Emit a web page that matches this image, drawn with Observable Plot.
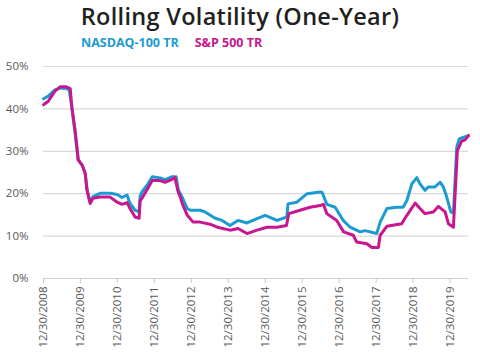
<!DOCTYPE html>
<html><head><meta charset="utf-8">
<script src="https://cdn.jsdelivr.net/npm/d3@7"></script>
<script src="https://cdn.jsdelivr.net/npm/@observablehq/plot@0.6"></script>
<style>
body{margin:0;background:#fff;width:480px;height:354px;overflow:hidden;font-family:"Open Sans",sans-serif}
#title{position:absolute;left:0;top:0px;width:480px;text-align:center;font-size:23.5px;font-weight:600;color:#231f20;letter-spacing:0.3px}
#legend{position:absolute;top:34px;left:81px;font-size:12.5px;font-weight:700}
#legend span{margin-right:16px}
#chart{position:absolute;left:0;top:50px}
</style></head>
<body>
<div id="title">Rolling Volatility (One-Year)</div>
<div id="legend"><span style="color:#1b9bd1">NASDAQ-100 TR</span><span style="color:#c8168e">S&amp;P 500 TR</span></div>
<div id="chart"></div>
<script>
const seriesNames = ["NASDAQ-100 TR", "S&P 500 TR"];
const seriesColors = ["#1b9bd1", "#c8168e"];
const tickDates = ["2008-12-30","2009-12-30","2010-12-30","2011-12-30","2012-12-30","2013-12-30","2014-12-30","2015-12-30","2016-12-30","2017-12-30","2018-12-30","2019-12-30"];
const yTicks = [0, 10, 20, 30, 40, 50];

const nasdaqDates = ["2008-12-30","2009-02-15","2009-04-22","2009-06-12","2009-08-12","2009-09-10","2009-10-08","2009-11-08","2009-12-08","2010-01-17","2010-02-15","2010-03-05","2010-04-05","2010-05-03","2010-07-12","2010-10-20","2010-12-28","2011-02-14","2011-04-05","2011-05-04","2011-06-23","2011-08-02","2011-08-12","2011-08-30","2011-10-20","2011-12-10","2012-02-26","2012-04-15","2012-06-24","2012-08-02","2012-08-22","2012-09-30","2012-11-20","2012-12-20","2013-03-27","2013-05-15","2013-08-22","2013-10-30","2014-01-16","2014-04-05","2014-07-03","2014-10-10","2014-12-30","2015-04-26","2015-08-01","2015-08-12","2015-11-08","2016-02-17","2016-06-25","2016-07-15","2016-08-30","2016-11-20","2017-02-08","2017-04-17","2017-07-25","2017-09-12","2018-01-05","2018-02-08","2018-04-15","2018-07-21","2018-09-23","2018-10-30","2018-12-18","2019-02-05","2019-03-09","2019-04-27","2019-05-30","2019-08-03","2019-09-24","2019-10-25","2019-11-28","2020-01-07","2020-02-02","2020-03-06","2020-03-30","2020-05-09","2020-06-30"];
const nasdaqValues = [42.4,43.0,44.5,44.9,44.8,44.5,40.0,34.0,28.0,26.7,24.8,21.0,18.0,19.3,20.1,20.1,19.8,19.1,19.7,17.7,16.1,15.7,19.5,20.4,22.0,24.0,23.7,23.3,24.0,24.0,21.0,19.2,16.5,16.1,16.1,15.7,14.2,13.7,12.5,13.7,13.1,14.1,14.9,13.7,14.5,17.6,18.0,20.0,20.4,20.3,17.5,16.8,13.7,12.1,11.0,11.3,10.6,13.3,16.5,16.8,16.8,18.4,22.3,23.8,22.3,20.8,21.6,21.6,22.7,21.6,19.2,15.7,15.4,31.0,32.9,33.3,33.7];

const spDates = ["2008-12-30","2009-02-15","2009-04-22","2009-06-12","2009-08-12","2009-09-20","2009-10-08","2009-11-08","2009-12-08","2010-01-17","2010-02-15","2010-03-05","2010-04-05","2010-05-03","2010-07-12","2010-10-20","2010-12-28","2011-02-14","2011-04-05","2011-05-04","2011-06-23","2011-08-02","2011-08-12","2011-08-30","2011-10-20","2011-12-10","2012-02-26","2012-04-15","2012-06-24","2012-07-20","2012-08-22","2012-09-12","2012-09-30","2012-11-20","2013-01-17","2013-03-27","2013-07-03","2013-09-12","2014-01-16","2014-04-05","2014-07-03","2014-10-10","2015-01-18","2015-04-26","2015-07-28","2015-08-20","2015-12-09","2016-03-17","2016-06-25","2016-07-27","2016-08-30","2016-12-06","2017-02-12","2017-05-18","2017-06-21","2017-09-30","2017-11-17","2018-01-21","2018-02-08","2018-04-15","2018-09-08","2018-10-30","2019-01-20","2019-03-09","2019-04-27","2019-07-18","2019-09-06","2019-11-12","2019-12-15","2020-02-02","2020-03-12","2020-04-24","2020-05-27","2020-06-30"];
const spValues = [41.0,41.8,44.2,45.2,45.2,44.8,40.0,34.9,28.0,26.7,24.8,20.8,17.7,18.9,19.2,19.2,18.0,17.5,17.9,16.5,14.5,14.2,18.3,18.9,21.0,23.1,23.1,22.7,23.4,23.8,20.4,19.2,17.7,14.9,13.3,13.3,12.8,12.1,11.4,11.8,10.6,11.4,12.1,12.1,12.5,15.3,16.1,16.8,17.2,17.5,15.3,13.7,11.0,10.2,8.6,8.2,7.3,7.3,10.2,12.3,12.9,14.9,17.8,16.5,15.3,15.7,17.0,15.7,12.9,12.1,30.2,32.4,32.7,33.7];

const parse = d3.utcParse("%Y-%m-%d");
const data = [
  ...nasdaqDates.map((d, i) => ({date: parse(d), value: nasdaqValues[i], series: seriesNames[0]})),
  ...spDates.map((d, i) => ({date: parse(d), value: spValues[i], series: seriesNames[1]}))
];
const fmt = d3.utcFormat("%m/%d/%Y");

const chart = Plot.plot({
  width: 480,
  height: 304,
  marginLeft: 43,
  marginRight: 12,
  marginTop: 16,
  marginBottom: 76,
  style: {fontFamily: "'Open Sans', sans-serif", fontSize: "11px", color: "#595959", background: "#fff"},
  x: {type: "utc", domain: [parse("2008-12-30"), parse("2020-06-30")], label: null},
  y: {domain: [0, 50], label: null},
  color: {domain: seriesNames, range: seriesColors},
  marks: [
    Plot.gridY(yTicks.filter(d => d > 0), {stroke: "#d9d9d9", strokeOpacity: 1, strokeWidth: 1.2}),
    Plot.ruleY([0], {stroke: "#d0d0d0", strokeWidth: 1.2}),
    Plot.axisY({ticks: yTicks, tickSize: 0, tickPadding: 15, tickFormat: d => d + "%", fontSize: 11.5, label: null}),
    Plot.axisX({ticks: tickDates.map(parse), tickFormat: fmt, tickRotate: -90, tickSize: 5, tickPadding: 3, stroke: "#c8c8c8", fontSize: 11.5, label: null}),
    Plot.line(data, {x: "date", y: "value", z: "series", stroke: "series", strokeWidth: 3, strokeLinejoin: "round"})
  ]
});
document.getElementById("chart").appendChild(chart);
</script>
</body></html>
